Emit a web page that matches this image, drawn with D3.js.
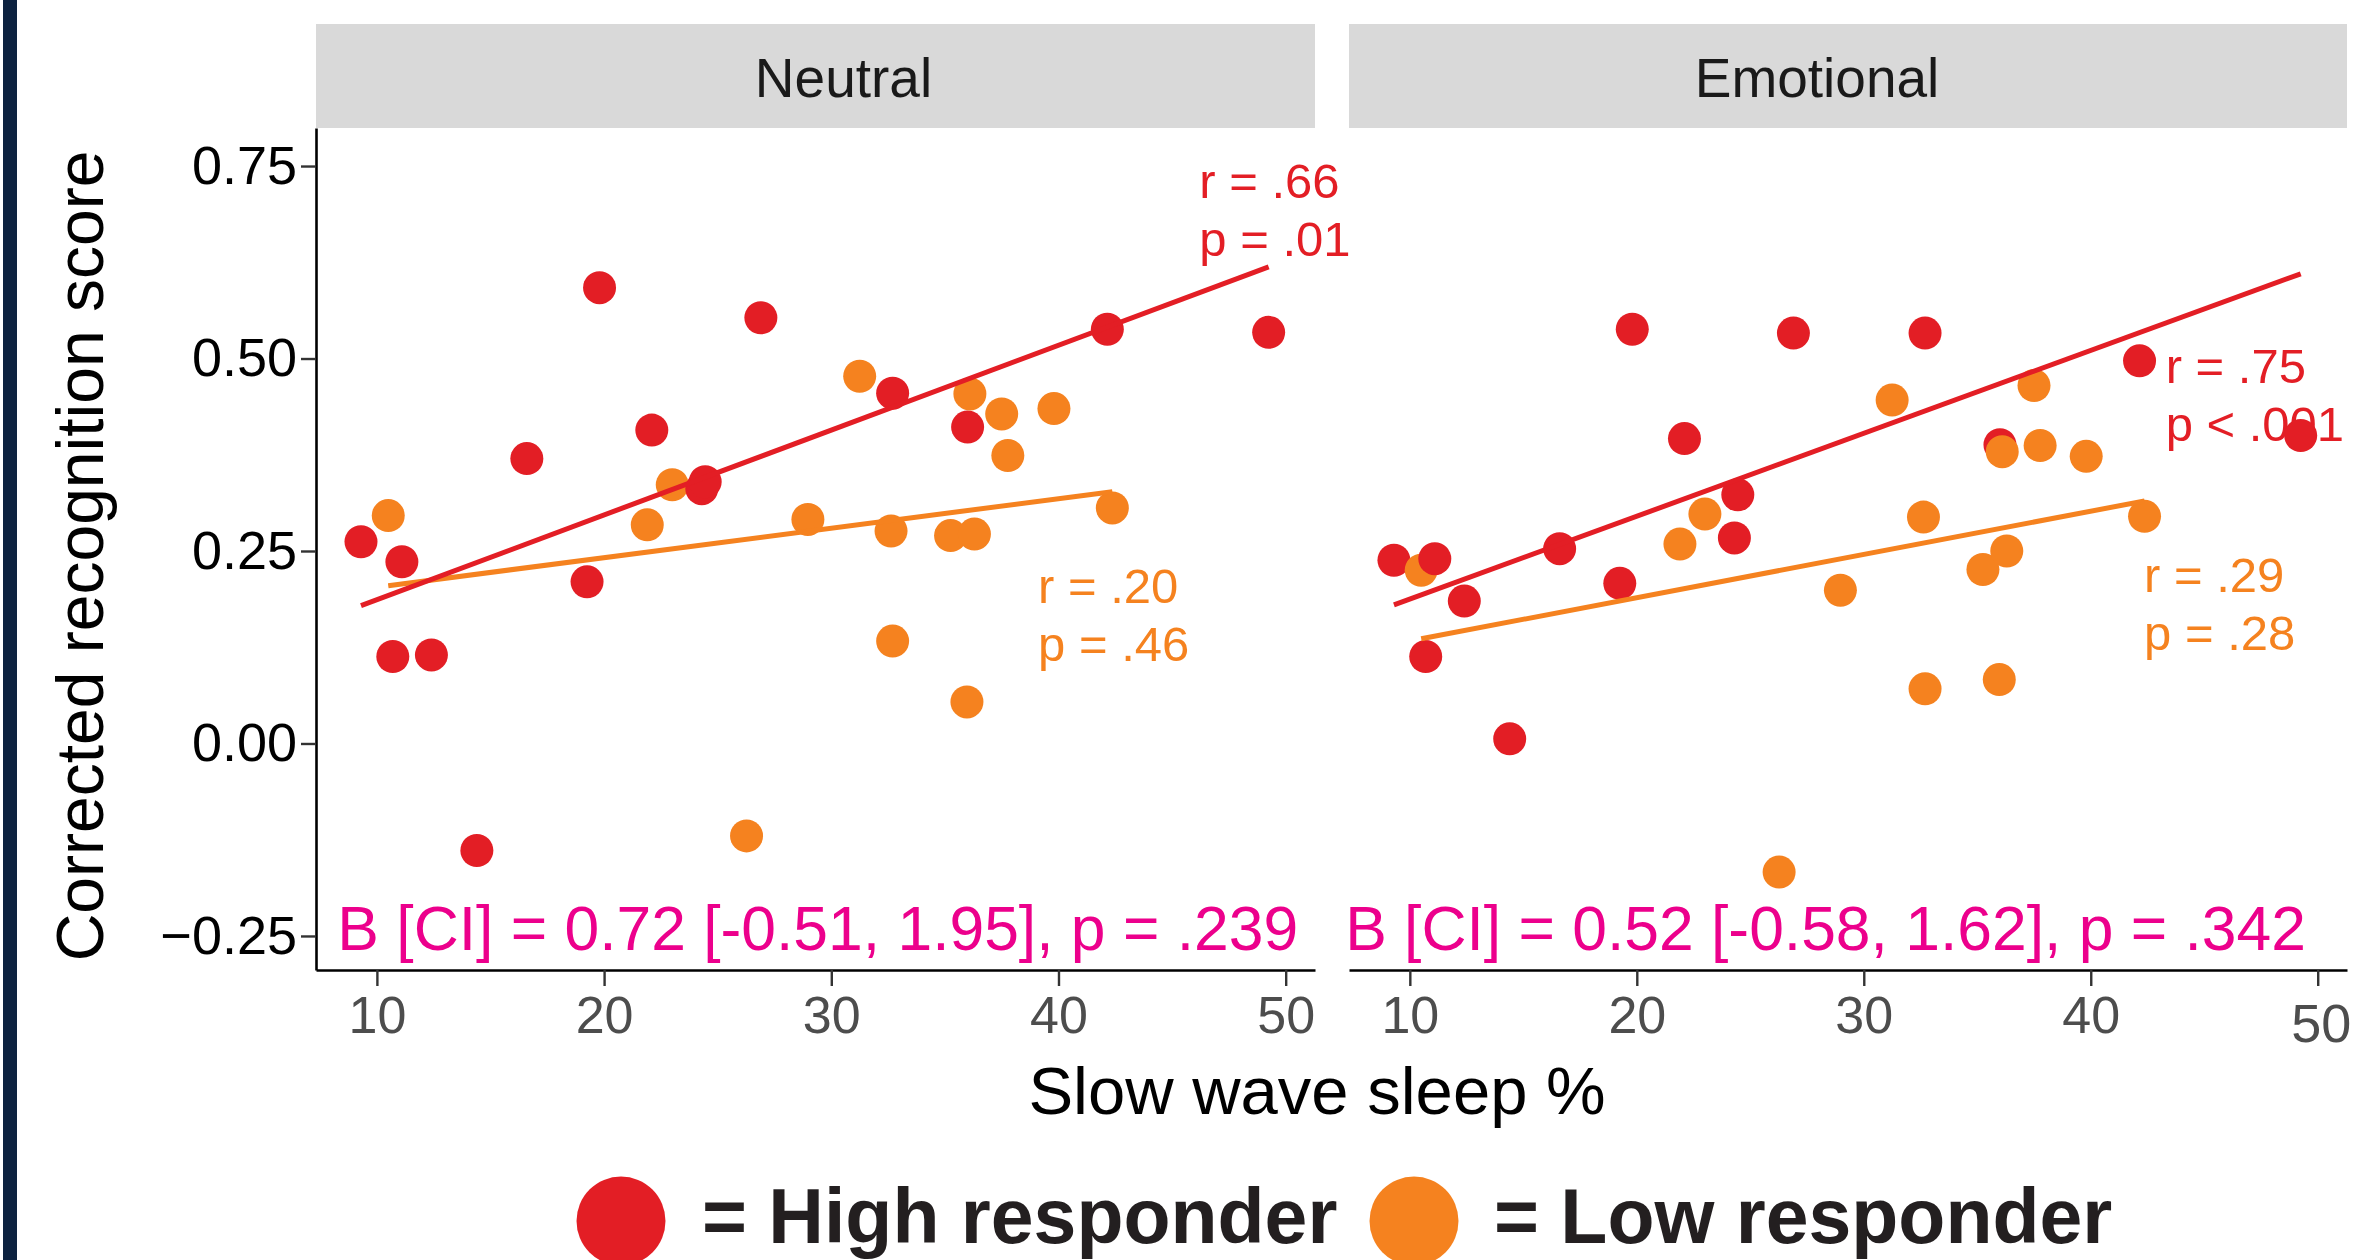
<!DOCTYPE html>
<html>
<head>
<meta charset="utf-8">
<script src="https://cdn.jsdelivr.net/npm/d3@7"></script>
<style>
  html, body { margin: 0; padding: 0; background: #ffffff; }
  svg { display: block; font-family: "Liberation Sans", Arial, Helvetica, sans-serif; }
</style>
</head>
<body>
<svg id="chart" width="2371" height="1260"></svg>
<script>
// ---- data -------------------------------------------------------------
const panels = ["Neutral", "Emotional"];

// slow wave sleep % per participant
const highSWS = [9.3, 10.7, 11.1, 12.4, 14.4, 16.6, 19.25, 19.8, 22.1, 24.3, 24.45, 26.9, 32.7, 36.0, 42.15, 49.25];
const lowSWS  = [10.5, 21.9, 23.0, 26.27, 28.97, 31.25, 32.63, 32.7, 35.25, 35.97, 36.1, 36.3, 37.5, 37.77, 39.8, 42.37];

// corrected recognition score
const highNeutral   = [0.262, 0.113, 0.236, 0.115, -0.139, 0.370, 0.210, 0.592, 0.407, 0.331, 0.340, 0.553, 0.455, 0.411, 0.538, 0.534];
const highEmotional = [0.238, 0.113, 0.240, 0.185, 0.006, 0.253, 0.208, 0.538, 0.396, 0.267, 0.323, 0.533, 0.533, 0.388, 0.497, 0.400];
const lowNeutral    = [0.296, 0.284, 0.336, -0.120, 0.291, 0.477, 0.276, 0.133, 0.270, 0.054, 0.454, 0.272, 0.428, 0.374, 0.435, 0.306];
const lowEmotional  = [0.225, 0.259, 0.298, -0.167, 0.199, 0.446, 0.294, 0.071, 0.226, 0.083, 0.379, 0.250, 0.465, 0.387, 0.373, 0.295];

// fitted regression lines: [x start, y start, x end, y end]
const fitHigh = [[9.3, 0.179, 49.25, 0.619], [9.3, 0.180, 49.25, 0.610]];
const fitLow  = [[10.5, 0.205, 42.37, 0.327], [10.5, 0.136, 42.37, 0.315]];

// correlation statistics and interaction test
const statsHigh = [["r = .66", "p = .01"], ["r = .75", "p < .001"]];
const statsLow  = [["r = .20", "p = .46"], ["r = .29", "p = .28"]];
const interaction = ["B [CI] = 0.72 [-0.51, 1.95], p = .239", "B [CI] = 0.52 [-0.58, 1.62], p = .342"];

const xTicks = [10, 20, 30, 40, 50];
const yTicks = [-0.25, 0, 0.25, 0.5, 0.75];
const legendLabels = ["= High responder", "= Low responder"];

// ---- layout -----------------------------------------------------------
const W = 2371, H = 1260;
const colHigh = "#e31e25", colLow = "#f5821f", colB = "#ec008c";
const panelX = [[316, 1315], [1349, 2347]];
const plotTop = 128, plotBottom = 970;
const stripTop = 24;
const stripLabelShift = [28, -31];
const xDomain = [7.32, 51.29];
const yDomain = [-0.2942, 0.7994];

// label anchors in data units
const statsHighAt = [[46.2, 0.708], [43.3, 0.468]];
const statsLowAt  = [[39.1, 0.183], [42.35, 0.197]];
const interactionAt = [[8.26, -0.268], [7.15, -0.268]];

const svg = d3.select("#chart");
svg.append("rect").attr("width", W).attr("height", H).attr("fill", "#ffffff");

// navy rule on the left edge
svg.append("rect").attr("x", 3).attr("y", 0).attr("width", 14).attr("height", H).attr("fill", "#0d2240");

const y = d3.scaleLinear().domain(yDomain).range([plotBottom, plotTop]);

const groups = [
  { sws: highSWS, vals: [highNeutral, highEmotional], color: colHigh },
  { sws: lowSWS,  vals: [lowNeutral,  lowEmotional],  color: colLow }
];

panels.forEach((name, i) => {
  const x = d3.scaleLinear().domain(xDomain).range(panelX[i]);
  const g = svg.append("g");

  // strip
  g.append("rect")
    .attr("x", panelX[i][0]).attr("y", stripTop)
    .attr("width", panelX[i][1] - panelX[i][0]).attr("height", plotTop - stripTop)
    .attr("fill", "#d9d9d9");
  g.append("text")
    .attr("x", (panelX[i][0] + panelX[i][1]) / 2 + stripLabelShift[i])
    .attr("y", 97)
    .attr("text-anchor", "middle")
    .attr("font-size", 55)
    .attr("fill", "#1a1a1a")
    .text(name);

  // x axis
  const xAxis = g.append("g")
    .attr("transform", `translate(0,${plotBottom})`)
    .call(d3.axisBottom(x).tickValues(xTicks).tickSize(16).tickSizeOuter(0).tickPadding(10));
  xAxis.select(".domain").attr("stroke", "#000").attr("stroke-width", 2.6);
  xAxis.selectAll(".tick line").attr("stroke", "#333").attr("stroke-width", 2.4);
  xAxis.selectAll(".tick text")
    .attr("font-size", 52).attr("fill", "#4d4d4d")
    .attr("font-family", "Liberation Sans, Arial, sans-serif");
  if (i === 1) {
    xAxis.selectAll(".tick text").filter(d => d === 50)
      .attr("font-size", 54).attr("dy", "0.86em").attr("dx", 3);
  }

  // y axis on the first panel only
  if (i === 0) {
    const yAxis = g.append("g")
      .attr("transform", `translate(${panelX[0][0]},0)`)
      .call(d3.axisLeft(y).tickValues(yTicks).tickSize(15).tickSizeOuter(0).tickPadding(4)
        .tickFormat(d3.format(".2f")));
    yAxis.select(".domain").attr("stroke", "#000").attr("stroke-width", 2.6);
    yAxis.selectAll(".tick line").attr("stroke", "#333").attr("stroke-width", 2.4);
    yAxis.selectAll(".tick text")
      .attr("font-size", 54).attr("fill", "#000")
      .attr("font-family", "Liberation Sans, Arial, sans-serif");
  }

  // correlation annotations
  const ann = [
    { lines: statsHigh[i], at: statsHighAt[i], color: colHigh },
    { lines: statsLow[i],  at: statsLowAt[i],  color: colLow }
  ];
  ann.forEach(a => {
    const t = g.append("text")
      .attr("x", x(a.at[0])).attr("y", y(a.at[1]))
      .attr("font-size", 49).attr("fill", a.color);
    a.lines.forEach((s, k) => {
      t.append("tspan").attr("x", x(a.at[0])).attr("dy", k === 0 ? 0 : 58).text(s);
    });
  });

  g.append("text")
    .attr("x", x(interactionAt[i][0])).attr("y", y(interactionAt[i][1]))
    .attr("font-size", 62.4).attr("fill", colB)
    .text(interaction[i]);

  // points, drawn left to right
  const pts = [];
  groups.forEach(gr => gr.sws.forEach((s, k) => pts.push({ x: s, y: gr.vals[i][k], c: gr.color })));
  pts.sort((a, b) => a.x - b.x);
  g.selectAll("circle.pt").data(pts).join("circle")
    .attr("class", "pt")
    .attr("cx", d => x(d.x)).attr("cy", d => y(d.y))
    .attr("r", 16.5).attr("fill", d => d.c);

  // regression lines
  [[fitLow[i], colLow], [fitHigh[i], colHigh]].forEach(([f, c]) => {
    g.append("line")
      .attr("x1", x(f[0])).attr("y1", y(f[1]))
      .attr("x2", x(f[2])).attr("y2", y(f[3]))
      .attr("stroke", c).attr("stroke-width", 5);
  });
});

// axis titles
svg.append("text")
  .attr("x", 1317).attr("y", 1114)
  .attr("text-anchor", "middle").attr("font-size", 67).attr("fill", "#000")
  .text("Slow wave sleep %");
svg.append("text")
  .attr("transform", "translate(103,556) rotate(-90)")
  .attr("text-anchor", "middle").attr("font-size", 66).attr("fill", "#000")
  .text("Corrected recognition score");

// legend
const legend = [
  { label: legendLabels[0], color: colHigh, cx: 621, tx: 702 },
  { label: legendLabels[1], color: colLow,  cx: 1414, tx: 1494 }
];
legend.forEach(l => {
  svg.append("circle").attr("cx", l.cx).attr("cy", 1221).attr("r", 44.5).attr("fill", l.color);
  svg.append("text")
    .attr("x", l.tx).attr("y", 1243)
    .attr("font-size", 77).attr("font-weight", "bold").attr("fill", "#231f20")
    .text(l.label);
});
</script>
</body>
</html>
